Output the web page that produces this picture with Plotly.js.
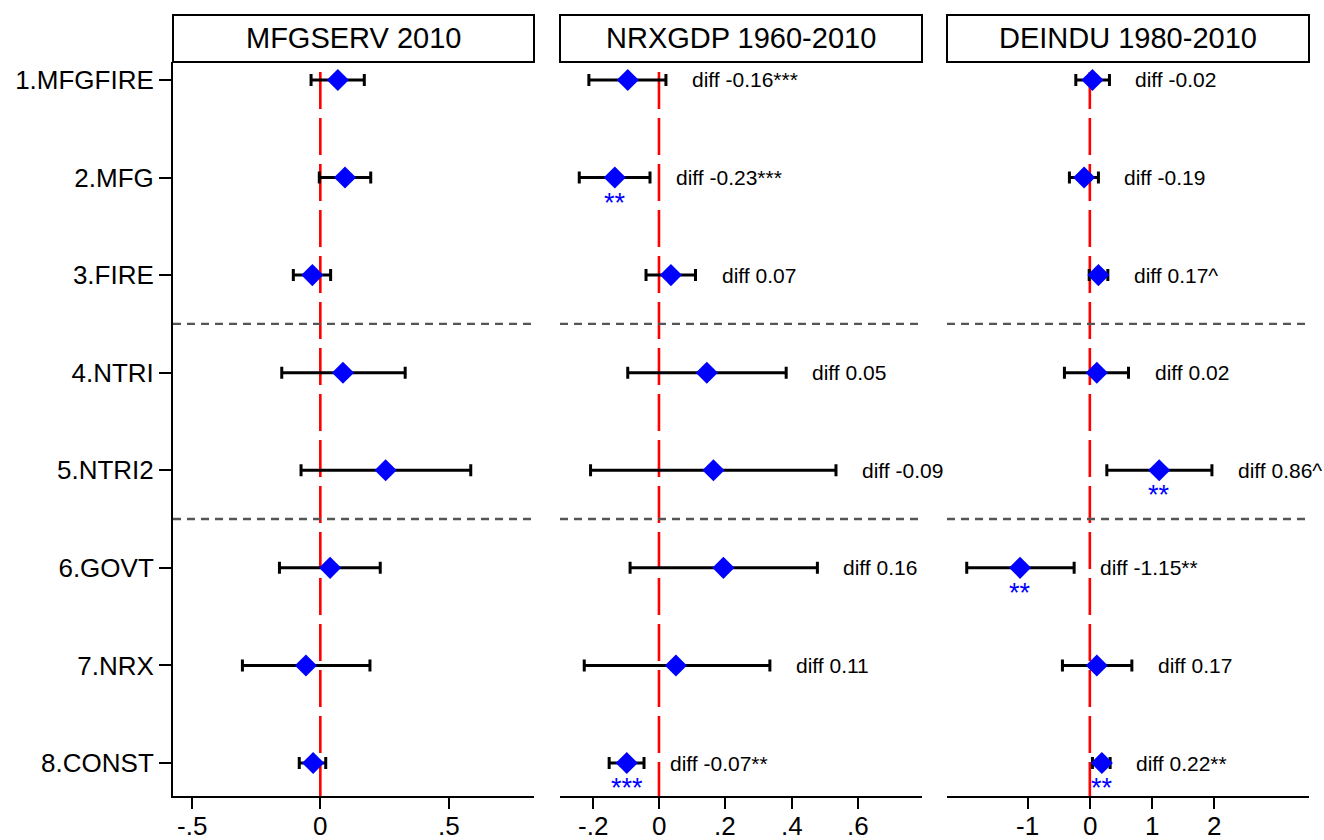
<!DOCTYPE html>
<html>
<head>
<meta charset="utf-8">
<script src="https://cdn.plot.ly/plotly-3.0.1.min.js"></script>
<style>html,body{margin:0;padding:0;background:#fff;}#chart{width:1324px;height:840px;}</style>
</head>
<body>
<div id="chart"></div>
<script>
// ---- data ----
const rowLabels = ['1.MFGFIRE','2.MFG','3.FIRE','4.NTRI','5.NTRI2','6.GOVT','7.NRX','8.CONST'];
const rowPos = [1,2,3,4,5,6,7,8];
const groupEnds = [3,5];   // separators drawn after these rows

const panelTitles = ['MFGSERV 2010','NRXGDP 1960-2010','DEINDU 1980-2010'];

const est1 = [0.068, 0.096, -0.031, 0.088, 0.254, 0.038, -0.056, -0.028];
const lo1  = [-0.036, -0.004, -0.105, -0.150, -0.075, -0.159, -0.303, -0.082];
const hi1  = [0.171, 0.196, 0.040, 0.330, 0.585, 0.233, 0.193, 0.021];
const diff1 = ['','','','','','','',''];
const stars1 = ['','','','','','','',''];

const est2 = [-0.094, -0.133, 0.036, 0.144, 0.164, 0.194, 0.051, -0.097];
const lo2  = [-0.211, -0.240, -0.039, -0.094, -0.206, -0.087, -0.225, -0.150];
const hi2  = [0.021, -0.027, 0.110, 0.383, 0.533, 0.477, 0.334, -0.045];
const diff2 = ['diff -0.16***','diff -0.23***','diff 0.07','diff 0.05','diff -0.09','diff 0.16','diff 0.11','diff -0.07**'];
const stars2 = ['','**','','','','','','***'];

const est3 = [0.042, -0.092, 0.138, 0.112, 1.114, -1.121, 0.112, 0.193];
const lo3  = [-0.225, -0.328, -0.010, -0.408, 0.273, -1.977, -0.440, 0.042];
const hi3  = [0.315, 0.138, 0.289, 0.621, 1.961, -0.252, 0.675, 0.326];
const diff3 = ['diff -0.02','diff -0.19','diff 0.17^','diff 0.02','diff 0.86^','diff -1.15**','diff 0.17','diff 0.22**'];
const stars3 = ['','','','','**','**','','**'];

const tickVals1 = [-0.5, 0, 0.5];           const tickText1 = ['-.5','0','.5'];
const tickVals2 = [-0.2, 0, 0.2, 0.4, 0.6]; const tickText2 = ['-.2','0','.2','.4','.6'];
const tickVals3 = [-1, 0, 1, 2];            const tickText3 = ['-1','0','1','2'];

// ---- layout geometry ----
const W = 1324, H = 840;
const FONT = 'Liberation Sans, Arial, sans-serif';
const px = v => v / W;
const py = v => 1 - v / H;
const domains = [[px(173), px(534)], [px(560), px(922)], [px(947), px(1309)]];
const ranges = [[-0.573, 0.831], [-0.298, 0.792], [-2.294, 3.52]];
const yDom = [py(796), py(62)];

const panels = [
  {est: est1, lo: lo1, hi: hi1, diff: diff1, stars: stars1, tv: tickVals1, tt: tickText1},
  {est: est2, lo: lo2, hi: hi2, diff: diff2, stars: stars2, tv: tickVals2, tt: tickText2},
  {est: est3, lo: lo3, hi: hi3, diff: diff3, stars: stars3, tv: tickVals3, tt: tickText3}
];

const traces = [];
const shapes = [];
const annotations = [];
const layout = {
  width: W, height: H,
  margin: {l: 0, r: 0, t: 0, b: 0},
  paper_bgcolor: '#fff', plot_bgcolor: '#fff',
  showlegend: false,
  font: {family: FONT, color: '#000'},
  yaxis: {
    domain: yDom, range: [8.338, 0.816], autorange: false,
    tickmode: 'array', tickvals: rowPos, ticktext: rowLabels,
    ticks: 'outside', ticklen: 12, tickwidth: 2, tickcolor: '#000',
    showline: true, linecolor: '#000', linewidth: 2,
    showgrid: false, zeroline: false,
    tickfont: {family: FONT, size: 26, color: '#000'},
    anchor: 'x', fixedrange: true
  }
};

panels.forEach((p, k) => {
  const xa = k === 0 ? 'x' : 'x' + (k + 1);
  const xKey = k === 0 ? 'xaxis' : 'xaxis' + (k + 1);
  layout[xKey] = {
    domain: domains[k], range: ranges[k], autorange: false,
    anchor: 'y',
    tickmode: 'array', tickvals: p.tv, ticktext: p.tt,
    ticks: 'outside', ticklen: 11, tickwidth: 2, tickcolor: '#000',
    showticklabels: false,
    showline: true, linecolor: '#000', linewidth: 2,
    showgrid: false, zeroline: false,
    fixedrange: true
  };
  // x tick labels placed on the axis scale just below the ticks
  p.tv.forEach((v, i) => {
    annotations.push({
      xref: xa, yref: 'paper', x: v, y: py(826), text: p.tt[i], showarrow: false,
      xanchor: 'center', yanchor: 'middle', borderpad: 0,
      font: {family: FONT, size: 26, color: '#000'}
    });
  });
  traces.push({
    type: 'scatter', mode: 'markers', xaxis: xa, yaxis: 'y',
    x: p.est, y: rowPos,
    marker: {symbol: 'diamond', size: 17, color: '#0000ff', line: {width: 0}},
    error_x: {
      type: 'data', symmetric: false,
      array: p.est.map((e, i) => p.hi[i] - e),
      arrayminus: p.est.map((e, i) => e - p.lo[i]),
      color: '#000', thickness: 3, width: 6
    },
    cliponaxis: false, hoverinfo: 'skip'
  });
  // zero reference line
  shapes.push({
    type: 'line', xref: xa, yref: 'paper', x0: 0, x1: 0, y0: py(72), y1: yDom[0],
    line: {color: '#ff0000', width: 2.6, dash: '37px,9px'}, layer: 'below'
  });
  // group separators
  groupEnds.forEach(g => {
    shapes.push({
      type: 'line', xref: xa + ' domain', yref: 'y', x0: 0, x1: 1, y0: g + 0.5, y1: g + 0.5,
      line: {color: '#555555', width: 2.4, dash: '8px,6px'}, layer: 'below'
    });
  });
  // header box
  shapes.push({
    type: 'rect', xref: 'paper', yref: 'paper',
    x0: domains[k][0], x1: domains[k][1], y0: py(62), y1: py(15),
    line: {color: '#000', width: 2}, fillcolor: '#fff'
  });
  annotations.push({
    xref: 'paper', yref: 'paper', x: (domains[k][0] + domains[k][1]) / 2, y: py(38.5),
    text: panelTitles[k], showarrow: false, xanchor: 'center', yanchor: 'middle',
    font: {family: FONT, size: 29, color: '#000'}
  });
  // diff labels & significance stars
  p.diff.forEach((t, i) => {
    if (t) annotations.push({
      xref: xa, yref: 'y', x: p.hi[i], y: rowPos[i], text: t, showarrow: false,
      xanchor: 'left', yanchor: 'middle', xshift: 24,
      font: {family: FONT, size: 21, color: '#000'}
    });
  });
  p.stars.forEach((t, i) => {
    if (t) annotations.push({
      xref: xa, yref: 'y', x: p.est[i], y: rowPos[i], text: t, showarrow: false,
      xanchor: 'center', yanchor: 'middle', yshift: -25,
      font: {family: FONT, size: 27, color: '#0000ff'}
    });
  });
});

layout.shapes = shapes;
layout.annotations = annotations;

Plotly.newPlot('chart', traces, layout, {staticPlot: true, displayModeBar: false});
</script>
</body>
</html>
